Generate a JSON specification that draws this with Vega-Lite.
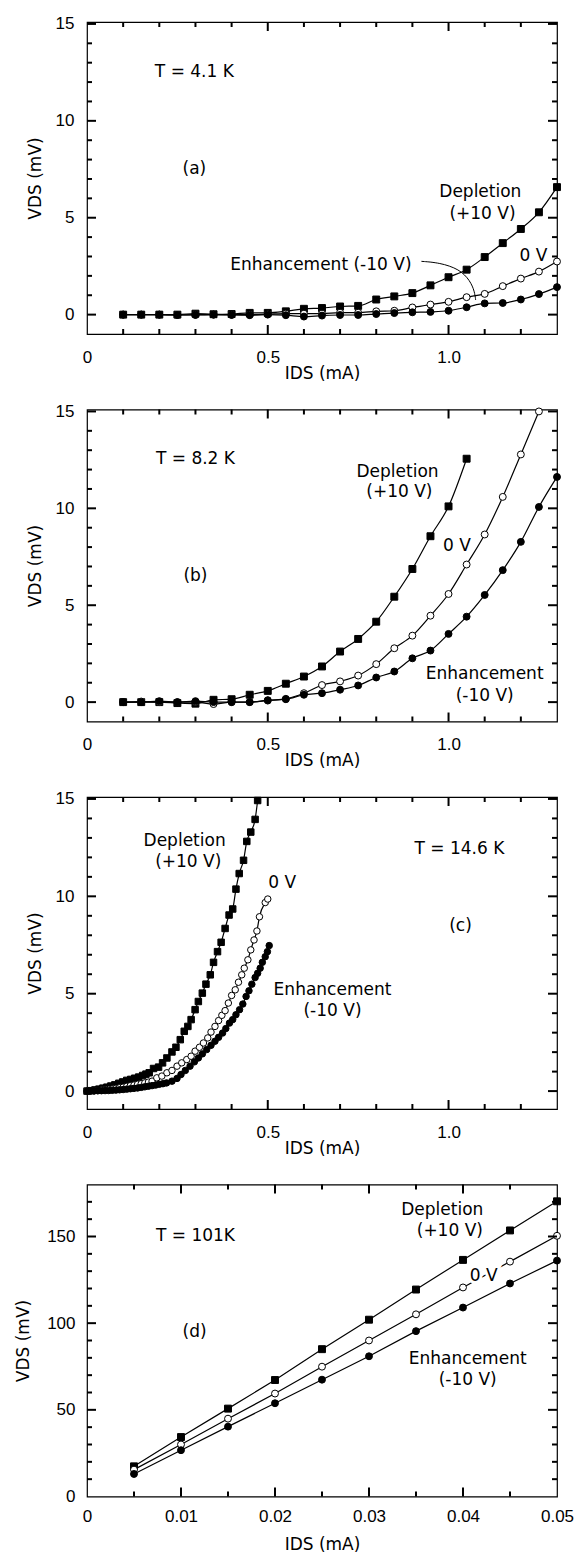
{
  "$schema": "https://vega.github.io/schema/vega-lite/v6.json",
  "background": "white",
  "padding": {"left": 14, "top": 14, "right": 5, "bottom": 5},
  "bounds": "flush",
  "spacing": 75.5,
  "config": {
    "view": {"stroke": "black", "strokeWidth": 1.2},
    "font": "Liberation Sans",
    "axis": {"domain": false, "grid": false, "ticks": false, "tickSize": 0, "labelColor": "black", "labelFont": "Liberation Sans", "labelFontSize": 17, "titleFont": "DejaVu Sans", "titleFontSize": 17, "titleFontWeight": "normal", "titleColor": "black", "labelOverlap": false, "labelBound": false, "labelFlush": false},
    "text": {"font": "DejaVu Sans", "fontSize": 17, "color": "black"},
    "rule": {"color": "black", "strokeWidth": 2, "opacity": 1}
  },
  "datasets": {
    "xM": [{"t":0.5},{"t":1.0}],
    "xm": [{"t":0.1},{"t":0.2},{"t":0.3},{"t":0.4},{"t":0.6},{"t":0.7},{"t":0.8},{"t":0.9},{"t":1.1},{"t":1.2}],
    "yM": [{"t":0},{"t":5},{"t":10},{"t":15}],
    "ym": [{"t":1},{"t":2},{"t":3},{"t":4},{"t":6},{"t":7},{"t":8},{"t":9},{"t":11},{"t":12},{"t":13},{"t":14}],
    "dxM": [{"t":0.01},{"t":0.02},{"t":0.03},{"t":0.04}],
    "dxm": [{"t":0.005},{"t":0.015},{"t":0.025},{"t":0.035},{"t":0.045}],
    "dyM": [{"t":50},{"t":100},{"t":150}],
    "dym": [{"t":10},{"t":20},{"t":30},{"t":40},{"t":60},{"t":70},{"t":80},{"t":90},{"t":110},{"t":120},{"t":130},{"t":140},{"t":160},{"t":170}],
    "a": [
      {"I":0.10,"V":0,"gate":"Depletion"},{"I":0.15,"V":0,"gate":"Depletion"},{"I":0.20,"V":0,"gate":"Depletion"},{"I":0.25,"V":0,"gate":"Depletion"},{"I":0.30,"V":0.05,"gate":"Depletion"},{"I":0.35,"V":0.02,"gate":"Depletion"},{"I":0.40,"V":0.03,"gate":"Depletion"},{"I":0.45,"V":0.09,"gate":"Depletion"},{"I":0.50,"V":0.09,"gate":"Depletion"},{"I":0.55,"V":0.17,"gate":"Depletion"},{"I":0.60,"V":0.3,"gate":"Depletion"},{"I":0.65,"V":0.34,"gate":"Depletion"},{"I":0.70,"V":0.42,"gate":"Depletion"},{"I":0.75,"V":0.45,"gate":"Depletion"},{"I":0.80,"V":0.78,"gate":"Depletion"},{"I":0.85,"V":0.94,"gate":"Depletion"},{"I":0.90,"V":1.11,"gate":"Depletion"},{"I":0.95,"V":1.51,"gate":"Depletion"},{"I":1.00,"V":1.93,"gate":"Depletion"},{"I":1.05,"V":2.32,"gate":"Depletion"},{"I":1.10,"V":2.97,"gate":"Depletion"},{"I":1.15,"V":3.69,"gate":"Depletion"},{"I":1.20,"V":4.42,"gate":"Depletion"},{"I":1.25,"V":5.28,"gate":"Depletion"},{"I":1.30,"V":6.58,"gate":"Depletion"},
      {"I":0.10,"V":0,"gate":"0 V"},{"I":0.15,"V":0,"gate":"0 V"},{"I":0.20,"V":0,"gate":"0 V"},{"I":0.25,"V":-0.02,"gate":"0 V"},{"I":0.30,"V":0,"gate":"0 V"},{"I":0.35,"V":0,"gate":"0 V"},{"I":0.40,"V":0,"gate":"0 V"},{"I":0.45,"V":0,"gate":"0 V"},{"I":0.50,"V":0.02,"gate":"0 V"},{"I":0.55,"V":0.05,"gate":"0 V"},{"I":0.60,"V":0.05,"gate":"0 V"},{"I":0.65,"V":0.05,"gate":"0 V"},{"I":0.70,"V":0.1,"gate":"0 V"},{"I":0.75,"V":0.1,"gate":"0 V"},{"I":0.80,"V":0.17,"gate":"0 V"},{"I":0.85,"V":0.2,"gate":"0 V"},{"I":0.90,"V":0.37,"gate":"0 V"},{"I":0.95,"V":0.52,"gate":"0 V"},{"I":1.00,"V":0.66,"gate":"0 V"},{"I":1.05,"V":0.9,"gate":"0 V"},{"I":1.10,"V":1.07,"gate":"0 V"},{"I":1.15,"V":1.47,"gate":"0 V"},{"I":1.20,"V":1.86,"gate":"0 V"},{"I":1.25,"V":2.22,"gate":"0 V"},{"I":1.30,"V":2.74,"gate":"0 V"},
      {"I":0.10,"V":0,"gate":"Enhancement"},{"I":0.15,"V":0,"gate":"Enhancement"},{"I":0.20,"V":0,"gate":"Enhancement"},{"I":0.25,"V":-0.02,"gate":"Enhancement"},{"I":0.30,"V":-0.02,"gate":"Enhancement"},{"I":0.35,"V":0,"gate":"Enhancement"},{"I":0.40,"V":-0.02,"gate":"Enhancement"},{"I":0.45,"V":-0.03,"gate":"Enhancement"},{"I":0.50,"V":0,"gate":"Enhancement"},{"I":0.55,"V":-0.03,"gate":"Enhancement"},{"I":0.60,"V":-0.1,"gate":"Enhancement"},{"I":0.65,"V":-0.05,"gate":"Enhancement"},{"I":0.70,"V":-0.02,"gate":"Enhancement"},{"I":0.75,"V":-0.02,"gate":"Enhancement"},{"I":0.80,"V":0.03,"gate":"Enhancement"},{"I":0.85,"V":0.08,"gate":"Enhancement"},{"I":0.90,"V":0.12,"gate":"Enhancement"},{"I":0.95,"V":0.14,"gate":"Enhancement"},{"I":1.00,"V":0.2,"gate":"Enhancement"},{"I":1.05,"V":0.38,"gate":"Enhancement"},{"I":1.10,"V":0.58,"gate":"Enhancement"},{"I":1.15,"V":0.6,"gate":"Enhancement"},{"I":1.20,"V":0.78,"gate":"Enhancement"},{"I":1.25,"V":1.06,"gate":"Enhancement"},{"I":1.30,"V":1.42,"gate":"Enhancement"}
    ],
    "at": [
      {"I":0.297,"V":12.5,"label":"T = 4.1 K"},{"I":0.297,"V":7.5,"label":"(a)"},{"I":1.088,"V":6.32,"label":"Depletion"},{"I":1.094,"V":5.17,"label":"(+10 V)"},{"I":1.235,"V":3.0,"label":"0 V"},{"I":0.647,"V":2.58,"label":"Enhancement  (-10 V)"}
    ],
    "al": [
      {"I":0.925,"V":2.75,"k":1},{"I":0.975,"V":2.68,"k":2},{"I":1.03,"V":2.35,"k":3},{"I":1.06,"V":1.75,"k":4},{"I":1.072,"V":1.19,"k":5},{"I":1.075,"V":0.76,"k":6}
    ],
    "b": [
      {"I":0.10,"V":0,"gate":"Depletion"},{"I":0.15,"V":0,"gate":"Depletion"},{"I":0.20,"V":0,"gate":"Depletion"},{"I":0.25,"V":-0.05,"gate":"Depletion"},{"I":0.30,"V":-0.08,"gate":"Depletion"},{"I":0.35,"V":0.12,"gate":"Depletion"},{"I":0.40,"V":0.15,"gate":"Depletion"},{"I":0.45,"V":0.38,"gate":"Depletion"},{"I":0.50,"V":0.58,"gate":"Depletion"},{"I":0.55,"V":0.95,"gate":"Depletion"},{"I":0.60,"V":1.32,"gate":"Depletion"},{"I":0.65,"V":1.84,"gate":"Depletion"},{"I":0.70,"V":2.61,"gate":"Depletion"},{"I":0.75,"V":3.26,"gate":"Depletion"},{"I":0.80,"V":4.15,"gate":"Depletion"},{"I":0.85,"V":5.44,"gate":"Depletion"},{"I":0.90,"V":6.87,"gate":"Depletion"},{"I":0.95,"V":8.56,"gate":"Depletion"},{"I":1.00,"V":10.1,"gate":"Depletion"},{"I":1.05,"V":12.56,"gate":"Depletion"},
      {"I":0.10,"V":0,"gate":"0 V"},{"I":0.15,"V":0.03,"gate":"0 V"},{"I":0.20,"V":0,"gate":"0 V"},{"I":0.25,"V":0,"gate":"0 V"},{"I":0.30,"V":0,"gate":"0 V"},{"I":0.35,"V":-0.1,"gate":"0 V"},{"I":0.40,"V":0,"gate":"0 V"},{"I":0.45,"V":0,"gate":"0 V"},{"I":0.50,"V":0.08,"gate":"0 V"},{"I":0.55,"V":0.17,"gate":"0 V"},{"I":0.60,"V":0.46,"gate":"0 V"},{"I":0.65,"V":0.88,"gate":"0 V"},{"I":0.70,"V":1.07,"gate":"0 V"},{"I":0.75,"V":1.37,"gate":"0 V"},{"I":0.80,"V":1.96,"gate":"0 V"},{"I":0.85,"V":2.78,"gate":"0 V"},{"I":0.90,"V":3.43,"gate":"0 V"},{"I":0.95,"V":4.46,"gate":"0 V"},{"I":1.00,"V":5.58,"gate":"0 V"},{"I":1.05,"V":7.1,"gate":"0 V"},{"I":1.10,"V":8.65,"gate":"0 V"},{"I":1.15,"V":10.59,"gate":"0 V"},{"I":1.20,"V":12.78,"gate":"0 V"},{"I":1.25,"V":15.0,"gate":"0 V"},
      {"I":0.10,"V":0,"gate":"Enhancement"},{"I":0.15,"V":0,"gate":"Enhancement"},{"I":0.20,"V":0.05,"gate":"Enhancement"},{"I":0.25,"V":0,"gate":"Enhancement"},{"I":0.30,"V":0.05,"gate":"Enhancement"},{"I":0.35,"V":0,"gate":"Enhancement"},{"I":0.40,"V":0,"gate":"Enhancement"},{"I":0.45,"V":0,"gate":"Enhancement"},{"I":0.50,"V":0.1,"gate":"Enhancement"},{"I":0.55,"V":0.15,"gate":"Enhancement"},{"I":0.60,"V":0.38,"gate":"Enhancement"},{"I":0.65,"V":0.46,"gate":"Enhancement"},{"I":0.70,"V":0.64,"gate":"Enhancement"},{"I":0.75,"V":0.86,"gate":"Enhancement"},{"I":0.80,"V":1.27,"gate":"Enhancement"},{"I":0.85,"V":1.58,"gate":"Enhancement"},{"I":0.90,"V":2.26,"gate":"Enhancement"},{"I":0.95,"V":2.66,"gate":"Enhancement"},{"I":1.00,"V":3.52,"gate":"Enhancement"},{"I":1.05,"V":4.41,"gate":"Enhancement"},{"I":1.10,"V":5.53,"gate":"Enhancement"},{"I":1.15,"V":6.81,"gate":"Enhancement"},{"I":1.20,"V":8.27,"gate":"Enhancement"},{"I":1.25,"V":10.07,"gate":"Enhancement"},{"I":1.30,"V":11.62,"gate":"Enhancement"}
    ],
    "bt": [
      {"I":0.30,"V":12.56,"label":"T = 8.2 K"},{"I":0.30,"V":6.5,"label":"(b)"},{"I":0.859,"V":11.87,"label":"Depletion"},{"I":0.864,"V":10.84,"label":"(+10 V)"},{"I":1.023,"V":8.06,"label":"0 V"},{"I":1.10,"V":1.44,"label":"Enhancement"},{"I":1.10,"V":0.34,"label":"(-10 V)"}
    ],
    "c": [
      {"I":0,"V":0,"gate":"Depletion"},{"I":0.011,"V":0.02,"gate":"Depletion"},{"I":0.022,"V":0.06,"gate":"Depletion"},{"I":0.033,"V":0.1,"gate":"Depletion"},{"I":0.044,"V":0.15,"gate":"Depletion"},{"I":0.055,"V":0.2,"gate":"Depletion"},{"I":0.066,"V":0.26,"gate":"Depletion"},{"I":0.077,"V":0.32,"gate":"Depletion"},{"I":0.088,"V":0.4,"gate":"Depletion"},{"I":0.099,"V":0.47,"gate":"Depletion"},{"I":0.11,"V":0.55,"gate":"Depletion"},{"I":0.121,"V":0.6,"gate":"Depletion"},{"I":0.132,"V":0.66,"gate":"Depletion"},{"I":0.143,"V":0.72,"gate":"Depletion"},{"I":0.154,"V":0.8,"gate":"Depletion"},{"I":0.163,"V":0.87,"gate":"Depletion"},{"I":0.172,"V":0.94,"gate":"Depletion"},{"I":0.184,"V":1.16,"gate":"Depletion"},{"I":0.198,"V":1.23,"gate":"Depletion"},{"I":0.209,"V":1.45,"gate":"Depletion"},{"I":0.221,"V":1.7,"gate":"Depletion"},{"I":0.235,"V":2.01,"gate":"Depletion"},{"I":0.246,"V":2.25,"gate":"Depletion"},{"I":0.258,"V":2.64,"gate":"Depletion"},{"I":0.269,"V":3.07,"gate":"Depletion"},{"I":0.279,"V":3.32,"gate":"Depletion"},{"I":0.288,"V":3.67,"gate":"Depletion"},{"I":0.299,"V":4.18,"gate":"Depletion"},{"I":0.308,"V":4.6,"gate":"Depletion"},{"I":0.319,"V":5.03,"gate":"Depletion"},{"I":0.329,"V":5.49,"gate":"Depletion"},{"I":0.341,"V":5.97,"gate":"Depletion"},{"I":0.35,"V":6.61,"gate":"Depletion"},{"I":0.361,"V":7.16,"gate":"Depletion"},{"I":0.371,"V":7.64,"gate":"Depletion"},{"I":0.382,"V":8.35,"gate":"Depletion"},{"I":0.393,"V":9.04,"gate":"Depletion"},{"I":0.403,"V":9.35,"gate":"Depletion"},{"I":0.412,"V":10.37,"gate":"Depletion"},{"I":0.421,"V":11.17,"gate":"Depletion"},{"I":0.433,"V":11.85,"gate":"Depletion"},{"I":0.442,"V":12.82,"gate":"Depletion"},{"I":0.453,"V":13.3,"gate":"Depletion"},{"I":0.465,"V":13.95,"gate":"Depletion"},{"I":0.472,"V":14.92,"gate":"Depletion"},
      {"I":0,"V":0,"gate":"0 V"},{"I":0.01,"V":0.01,"gate":"0 V"},{"I":0.02,"V":0.02,"gate":"0 V"},{"I":0.03,"V":0.03,"gate":"0 V"},{"I":0.04,"V":0.05,"gate":"0 V"},{"I":0.05,"V":0.07,"gate":"0 V"},{"I":0.06,"V":0.09,"gate":"0 V"},{"I":0.07,"V":0.11,"gate":"0 V"},{"I":0.08,"V":0.14,"gate":"0 V"},{"I":0.09,"V":0.17,"gate":"0 V"},{"I":0.10,"V":0.2,"gate":"0 V"},{"I":0.11,"V":0.24,"gate":"0 V"},{"I":0.12,"V":0.28,"gate":"0 V"},{"I":0.13,"V":0.31,"gate":"0 V"},{"I":0.14,"V":0.35,"gate":"0 V"},{"I":0.15,"V":0.38,"gate":"0 V"},{"I":0.16,"V":0.42,"gate":"0 V"},{"I":0.17,"V":0.46,"gate":"0 V"},{"I":0.18,"V":0.51,"gate":"0 V"},{"I":0.193,"V":0.68,"gate":"0 V"},{"I":0.207,"V":0.77,"gate":"0 V"},{"I":0.221,"V":0.94,"gate":"0 V"},{"I":0.235,"V":1.06,"gate":"0 V"},{"I":0.249,"V":1.28,"gate":"0 V"},{"I":0.262,"V":1.45,"gate":"0 V"},{"I":0.276,"V":1.62,"gate":"0 V"},{"I":0.288,"V":1.79,"gate":"0 V"},{"I":0.299,"V":2.05,"gate":"0 V"},{"I":0.311,"V":2.25,"gate":"0 V"},{"I":0.322,"V":2.47,"gate":"0 V"},{"I":0.334,"V":2.73,"gate":"0 V"},{"I":0.343,"V":3.03,"gate":"0 V"},{"I":0.354,"V":3.32,"gate":"0 V"},{"I":0.364,"V":3.62,"gate":"0 V"},{"I":0.373,"V":3.89,"gate":"0 V"},{"I":0.382,"V":4.13,"gate":"0 V"},{"I":0.391,"V":4.52,"gate":"0 V"},{"I":0.40,"V":4.91,"gate":"0 V"},{"I":0.41,"V":5.2,"gate":"0 V"},{"I":0.419,"V":5.59,"gate":"0 V"},{"I":0.428,"V":5.97,"gate":"0 V"},{"I":0.435,"V":6.31,"gate":"0 V"},{"I":0.445,"V":6.74,"gate":"0 V"},{"I":0.453,"V":7.25,"gate":"0 V"},{"I":0.462,"V":7.76,"gate":"0 V"},{"I":0.47,"V":8.22,"gate":"0 V"},{"I":0.477,"V":8.95,"gate":"0 V"},{"I":0.493,"V":9.68,"gate":"0 V"},{"I":0.5,"V":9.86,"gate":"0 V"},
      {"I":0,"V":0,"gate":"Enhancement"},{"I":0.01,"V":0.005,"gate":"Enhancement"},{"I":0.02,"V":0.01,"gate":"Enhancement"},{"I":0.03,"V":0.015,"gate":"Enhancement"},{"I":0.04,"V":0.02,"gate":"Enhancement"},{"I":0.05,"V":0.025,"gate":"Enhancement"},{"I":0.06,"V":0.03,"gate":"Enhancement"},{"I":0.07,"V":0.04,"gate":"Enhancement"},{"I":0.08,"V":0.05,"gate":"Enhancement"},{"I":0.09,"V":0.065,"gate":"Enhancement"},{"I":0.10,"V":0.08,"gate":"Enhancement"},{"I":0.11,"V":0.1,"gate":"Enhancement"},{"I":0.12,"V":0.12,"gate":"Enhancement"},{"I":0.13,"V":0.14,"gate":"Enhancement"},{"I":0.14,"V":0.16,"gate":"Enhancement"},{"I":0.15,"V":0.19,"gate":"Enhancement"},{"I":0.16,"V":0.22,"gate":"Enhancement"},{"I":0.17,"V":0.25,"gate":"Enhancement"},{"I":0.18,"V":0.28,"gate":"Enhancement"},{"I":0.19,"V":0.31,"gate":"Enhancement"},{"I":0.20,"V":0.35,"gate":"Enhancement"},{"I":0.21,"V":0.38,"gate":"Enhancement"},{"I":0.22,"V":0.42,"gate":"Enhancement"},{"I":0.235,"V":0.51,"gate":"Enhancement"},{"I":0.249,"V":0.65,"gate":"Enhancement"},{"I":0.26,"V":0.85,"gate":"Enhancement"},{"I":0.272,"V":1.06,"gate":"Enhancement"},{"I":0.285,"V":1.28,"gate":"Enhancement"},{"I":0.297,"V":1.5,"gate":"Enhancement"},{"I":0.308,"V":1.7,"gate":"Enhancement"},{"I":0.319,"V":1.91,"gate":"Enhancement"},{"I":0.331,"V":2.13,"gate":"Enhancement"},{"I":0.343,"V":2.35,"gate":"Enhancement"},{"I":0.354,"V":2.56,"gate":"Enhancement"},{"I":0.364,"V":2.76,"gate":"Enhancement"},{"I":0.375,"V":2.98,"gate":"Enhancement"},{"I":0.384,"V":3.21,"gate":"Enhancement"},{"I":0.394,"V":3.49,"gate":"Enhancement"},{"I":0.403,"V":3.67,"gate":"Enhancement"},{"I":0.412,"V":3.92,"gate":"Enhancement"},{"I":0.422,"V":4.18,"gate":"Enhancement"},{"I":0.431,"V":4.47,"gate":"Enhancement"},{"I":0.44,"V":4.86,"gate":"Enhancement"},{"I":0.448,"V":5.15,"gate":"Enhancement"},{"I":0.456,"V":5.49,"gate":"Enhancement"},{"I":0.465,"V":5.83,"gate":"Enhancement"},{"I":0.472,"V":6.05,"gate":"Enhancement"},{"I":0.479,"V":6.31,"gate":"Enhancement"},{"I":0.485,"V":6.61,"gate":"Enhancement"},{"I":0.493,"V":6.9,"gate":"Enhancement"},{"I":0.499,"V":7.16,"gate":"Enhancement"},{"I":0.504,"V":7.47,"gate":"Enhancement"}
    ],
    "ct": [
      {"I":1.03,"V":12.41,"label":"T = 14.6 K"},{"I":1.033,"V":8.49,"label":"(c)"},{"I":0.27,"V":12.82,"label":"Depletion"},{"I":0.28,"V":11.76,"label":"(+10 V)"},{"I":0.54,"V":10.66,"label":"0 V"},{"I":0.679,"V":5.2,"label":"Enhancement"},{"I":0.679,"V":4.13,"label":"(-10 V)"}
    ],
    "d": [
      {"I":0.005,"V":17.4,"gate":"Depletion"},{"I":0.01,"V":34.3,"gate":"Depletion"},{"I":0.015,"V":50.7,"gate":"Depletion"},{"I":0.02,"V":67.2,"gate":"Depletion"},{"I":0.025,"V":85,"gate":"Depletion"},{"I":0.03,"V":102,"gate":"Depletion"},{"I":0.035,"V":119.4,"gate":"Depletion"},{"I":0.04,"V":136.5,"gate":"Depletion"},{"I":0.045,"V":153.5,"gate":"Depletion"},{"I":0.05,"V":170.3,"gate":"Depletion"},
      {"I":0.005,"V":15.5,"gate":"0 V"},{"I":0.01,"V":30,"gate":"0 V"},{"I":0.015,"V":44.9,"gate":"0 V"},{"I":0.02,"V":59.4,"gate":"0 V"},{"I":0.025,"V":74.9,"gate":"0 V"},{"I":0.03,"V":90,"gate":"0 V"},{"I":0.035,"V":105.1,"gate":"0 V"},{"I":0.04,"V":120.6,"gate":"0 V"},{"I":0.045,"V":135.5,"gate":"0 V"},{"I":0.05,"V":150.4,"gate":"0 V"},
      {"I":0.005,"V":13,"gate":"Enhancement"},{"I":0.01,"V":26.7,"gate":"Enhancement"},{"I":0.015,"V":40.3,"gate":"Enhancement"},{"I":0.02,"V":53.8,"gate":"Enhancement"},{"I":0.025,"V":67.4,"gate":"Enhancement"},{"I":0.03,"V":80.9,"gate":"Enhancement"},{"I":0.035,"V":95.4,"gate":"Enhancement"},{"I":0.04,"V":109,"gate":"Enhancement"},{"I":0.045,"V":122.9,"gate":"Enhancement"},{"I":0.05,"V":136.1,"gate":"Enhancement"}
    ],
    "dt": [
      {"I":0.01154,"V":150.4,"label":"T = 101K"},{"I":0.01145,"V":94.8,"label":"(d)"},{"I":0.0378,"V":165.1,"label":"Depletion"},{"I":0.0386,"V":152.9,"label":"(+10 V)"},{"I":0.0422,"V":127.2,"label":"0 V"},{"I":0.0405,"V":79.4,"label":"Enhancement"},{"I":0.0405,"V":67.2,"label":"(-10 V)"}
    ]
  },
  "vconcat": [
    {
      "width": 470, "height": 312,
      "layer": [
        {"data": {"name": "a"}, "mark": {"type": "line", "color": "black", "strokeWidth": 1.2, "interpolate": "monotone"},
         "encoding": {
           "x": {"field": "I", "type": "quantitative", "scale": {"domain": [0, 1.3], "nice": false, "zero": false},
                 "axis": {"values": [0, 0.5, 1], "ticks": false, "tickSize": 0, "labelExpr": "datum.value==0 ? '0' : format(datum.value,'.1f')", "labelPadding": 15, "title": "IDS  (mA)", "titlePadding": 0}},
           "y": {"field": "V", "type": "quantitative", "scale": {"domain": [-1, 15.1], "nice": false, "zero": false},
                 "axis": {"values": [0, 5, 10, 15], "ticks": false, "tickSize": 0, "labelPadding": 13, "title": "VDS  (mV)", "titlePadding": 11}},
           "detail": {"field": "gate"}
         }},
        {"data": {"name": "a"}, "mark": {"type": "point", "stroke": "black", "strokeWidth": 1, "size": 48, "opacity": 1, "fillOpacity": 1},
         "encoding": {
           "x": {"field": "I", "type": "quantitative"}, "y": {"field": "V", "type": "quantitative"},
           "shape": {"field": "gate", "scale": {"domain": ["Depletion", "0 V", "Enhancement"], "range": ["square", "circle", "circle"]}, "legend": null},
           "fill": {"field": "gate", "scale": {"domain": ["Depletion", "0 V", "Enhancement"], "range": ["black", "white", "black"]}, "legend": null}
         }},
        {"data": {"name": "al"}, "mark": {"type": "line", "color": "black", "strokeWidth": 1, "interpolate": "basis"},
         "encoding": {"x": {"field": "I", "type": "quantitative"}, "y": {"field": "V", "type": "quantitative"}, "order": {"field": "k"}}},
        {"data": {"name": "at"}, "mark": {"type": "text", "align": "center", "baseline": "middle"},
         "encoding": {"x": {"field": "I", "type": "quantitative"}, "y": {"field": "V", "type": "quantitative"}, "text": {"field": "label"}}},
        {"data": {"name": "xM"}, "mark": {"type": "rule", "color": "black", "strokeWidth": 2}, "encoding": {"x": {"field": "t", "type": "quantitative"}, "y": {"datum": -1, "type": "quantitative"}, "y2": {"datum": -0.536}}},
        {"data": {"name": "xm"}, "mark": {"type": "rule", "color": "black", "strokeWidth": 2}, "encoding": {"x": {"field": "t", "type": "quantitative"}, "y": {"datum": -1, "type": "quantitative"}, "y2": {"datum": -0.742}}},
        {"data": {"name": "xM"}, "mark": {"type": "rule", "color": "black", "strokeWidth": 2}, "encoding": {"x": {"field": "t", "type": "quantitative"}, "y": {"datum": 15.1, "type": "quantitative"}, "y2": {"datum": 14.636}}},
        {"data": {"name": "xm"}, "mark": {"type": "rule", "color": "black", "strokeWidth": 2}, "encoding": {"x": {"field": "t", "type": "quantitative"}, "y": {"datum": 15.1, "type": "quantitative"}, "y2": {"datum": 14.842}}},
        {"data": {"name": "yM"}, "mark": {"type": "rule", "color": "black", "strokeWidth": 2}, "encoding": {"y": {"field": "t", "type": "quantitative"}, "x": {"datum": 0, "type": "quantitative"}, "x2": {"datum": 0.0249}}},
        {"data": {"name": "ym"}, "mark": {"type": "rule", "color": "black", "strokeWidth": 2}, "encoding": {"y": {"field": "t", "type": "quantitative"}, "x": {"datum": 0, "type": "quantitative"}, "x2": {"datum": 0.0138}}},
        {"data": {"name": "yM"}, "mark": {"type": "rule", "color": "black", "strokeWidth": 2}, "encoding": {"y": {"field": "t", "type": "quantitative"}, "x": {"datum": 1.3, "type": "quantitative"}, "x2": {"datum": 1.2751}}},
        {"data": {"name": "ym"}, "mark": {"type": "rule", "color": "black", "strokeWidth": 2}, "encoding": {"y": {"field": "t", "type": "quantitative"}, "x": {"datum": 1.3, "type": "quantitative"}, "x2": {"datum": 1.2862}}}
      ]
    },
    {
      "width": 470, "height": 312,
      "layer": [
        {"data": {"name": "b"}, "mark": {"type": "line", "color": "black", "strokeWidth": 1.2, "interpolate": "monotone"},
         "encoding": {
           "x": {"field": "I", "type": "quantitative", "scale": {"domain": [0, 1.3], "nice": false, "zero": false},
                 "axis": {"values": [0, 0.5, 1], "ticks": false, "tickSize": 0, "labelExpr": "datum.value==0 ? '0' : format(datum.value,'.1f')", "labelPadding": 15, "title": "IDS  (mA)", "titlePadding": 0}},
           "y": {"field": "V", "type": "quantitative", "scale": {"domain": [-1, 15.1], "nice": false, "zero": false},
                 "axis": {"values": [0, 5, 10, 15], "ticks": false, "tickSize": 0, "labelPadding": 13, "title": "VDS  (mV)", "titlePadding": 11}},
           "detail": {"field": "gate"}
         }},
        {"data": {"name": "b"}, "mark": {"type": "point", "stroke": "black", "strokeWidth": 1, "size": 48, "opacity": 1, "fillOpacity": 1, "clip": false},
         "encoding": {
           "x": {"field": "I", "type": "quantitative"}, "y": {"field": "V", "type": "quantitative"},
           "shape": {"field": "gate", "scale": {"domain": ["Depletion", "0 V", "Enhancement"], "range": ["square", "circle", "circle"]}, "legend": null},
           "fill": {"field": "gate", "scale": {"domain": ["Depletion", "0 V", "Enhancement"], "range": ["black", "white", "black"]}, "legend": null}
         }},
        {"data": {"name": "bt"}, "mark": {"type": "text", "align": "center", "baseline": "middle"},
         "encoding": {"x": {"field": "I", "type": "quantitative"}, "y": {"field": "V", "type": "quantitative"}, "text": {"field": "label"}}},
        {"data": {"name": "xM"}, "mark": {"type": "rule", "color": "black", "strokeWidth": 2}, "encoding": {"x": {"field": "t", "type": "quantitative"}, "y": {"datum": -1, "type": "quantitative"}, "y2": {"datum": -0.536}}},
        {"data": {"name": "xm"}, "mark": {"type": "rule", "color": "black", "strokeWidth": 2}, "encoding": {"x": {"field": "t", "type": "quantitative"}, "y": {"datum": -1, "type": "quantitative"}, "y2": {"datum": -0.742}}},
        {"data": {"name": "xM"}, "mark": {"type": "rule", "color": "black", "strokeWidth": 2}, "encoding": {"x": {"field": "t", "type": "quantitative"}, "y": {"datum": 15.1, "type": "quantitative"}, "y2": {"datum": 14.636}}},
        {"data": {"name": "xm"}, "mark": {"type": "rule", "color": "black", "strokeWidth": 2}, "encoding": {"x": {"field": "t", "type": "quantitative"}, "y": {"datum": 15.1, "type": "quantitative"}, "y2": {"datum": 14.842}}},
        {"data": {"name": "yM"}, "mark": {"type": "rule", "color": "black", "strokeWidth": 2}, "encoding": {"y": {"field": "t", "type": "quantitative"}, "x": {"datum": 0, "type": "quantitative"}, "x2": {"datum": 0.0249}}},
        {"data": {"name": "ym"}, "mark": {"type": "rule", "color": "black", "strokeWidth": 2}, "encoding": {"y": {"field": "t", "type": "quantitative"}, "x": {"datum": 0, "type": "quantitative"}, "x2": {"datum": 0.0138}}},
        {"data": {"name": "yM"}, "mark": {"type": "rule", "color": "black", "strokeWidth": 2}, "encoding": {"y": {"field": "t", "type": "quantitative"}, "x": {"datum": 1.3, "type": "quantitative"}, "x2": {"datum": 1.2751}}},
        {"data": {"name": "ym"}, "mark": {"type": "rule", "color": "black", "strokeWidth": 2}, "encoding": {"y": {"field": "t", "type": "quantitative"}, "x": {"datum": 1.3, "type": "quantitative"}, "x2": {"datum": 1.2862}}}
      ]
    },
    {
      "width": 470, "height": 312,
      "layer": [
        {"data": {"name": "c"}, "mark": {"type": "line", "color": "black", "strokeWidth": 1.2, "interpolate": "monotone"},
         "encoding": {
           "x": {"field": "I", "type": "quantitative", "scale": {"domain": [0, 1.3], "nice": false, "zero": false},
                 "axis": {"values": [0, 0.5, 1], "ticks": false, "tickSize": 0, "labelExpr": "datum.value==0 ? '0' : format(datum.value,'.1f')", "labelPadding": 15, "title": "IDS  (mA)", "titlePadding": 0}},
           "y": {"field": "V", "type": "quantitative", "scale": {"domain": [-0.92, 15.1], "nice": false, "zero": false},
                 "axis": {"values": [0, 5, 10, 15], "ticks": false, "tickSize": 0, "labelPadding": 13, "title": "VDS  (mV)", "titlePadding": 11}},
           "detail": {"field": "gate"}
         }},
        {"data": {"name": "c"}, "mark": {"type": "point", "stroke": "black", "strokeWidth": 1, "size": 42, "opacity": 1, "fillOpacity": 1},
         "encoding": {
           "x": {"field": "I", "type": "quantitative"}, "y": {"field": "V", "type": "quantitative"},
           "shape": {"field": "gate", "scale": {"domain": ["Depletion", "0 V", "Enhancement"], "range": ["square", "circle", "circle"]}, "legend": null},
           "fill": {"field": "gate", "scale": {"domain": ["Depletion", "0 V", "Enhancement"], "range": ["black", "white", "black"]}, "legend": null}
         }},
        {"data": {"name": "ct"}, "mark": {"type": "text", "align": "center", "baseline": "middle"},
         "encoding": {"x": {"field": "I", "type": "quantitative"}, "y": {"field": "V", "type": "quantitative"}, "text": {"field": "label"}}},
        {"data": {"name": "xM"}, "mark": {"type": "rule", "color": "black", "strokeWidth": 2}, "encoding": {"x": {"field": "t", "type": "quantitative"}, "y": {"datum": -0.92, "type": "quantitative"}, "y2": {"datum": -0.458}}},
        {"data": {"name": "xm"}, "mark": {"type": "rule", "color": "black", "strokeWidth": 2}, "encoding": {"x": {"field": "t", "type": "quantitative"}, "y": {"datum": -0.92, "type": "quantitative"}, "y2": {"datum": -0.663}}},
        {"data": {"name": "xM"}, "mark": {"type": "rule", "color": "black", "strokeWidth": 2}, "encoding": {"x": {"field": "t", "type": "quantitative"}, "y": {"datum": 15.1, "type": "quantitative"}, "y2": {"datum": 14.638}}},
        {"data": {"name": "xm"}, "mark": {"type": "rule", "color": "black", "strokeWidth": 2}, "encoding": {"x": {"field": "t", "type": "quantitative"}, "y": {"datum": 15.1, "type": "quantitative"}, "y2": {"datum": 14.843}}},
        {"data": {"name": "yM"}, "mark": {"type": "rule", "color": "black", "strokeWidth": 2}, "encoding": {"y": {"field": "t", "type": "quantitative"}, "x": {"datum": 0, "type": "quantitative"}, "x2": {"datum": 0.0249}}},
        {"data": {"name": "ym"}, "mark": {"type": "rule", "color": "black", "strokeWidth": 2}, "encoding": {"y": {"field": "t", "type": "quantitative"}, "x": {"datum": 0, "type": "quantitative"}, "x2": {"datum": 0.0138}}},
        {"data": {"name": "yM"}, "mark": {"type": "rule", "color": "black", "strokeWidth": 2}, "encoding": {"y": {"field": "t", "type": "quantitative"}, "x": {"datum": 1.3, "type": "quantitative"}, "x2": {"datum": 1.2751}}},
        {"data": {"name": "ym"}, "mark": {"type": "rule", "color": "black", "strokeWidth": 2}, "encoding": {"y": {"field": "t", "type": "quantitative"}, "x": {"datum": 1.3, "type": "quantitative"}, "x2": {"datum": 1.2862}}}
      ]
    },
    {
      "width": 470, "height": 312,
      "layer": [
        {"data": {"name": "d"}, "mark": {"type": "line", "color": "black", "strokeWidth": 1.2},
         "encoding": {
           "x": {"field": "I", "type": "quantitative", "scale": {"domain": [0, 0.05], "nice": false, "zero": false},
                 "axis": {"values": [0, 0.01, 0.02, 0.03, 0.04, 0.05], "ticks": false, "tickSize": 0, "labelExpr": "datum.value==0 ? '0' : format(datum.value,'.2f')", "labelPadding": 12, "title": "IDS  (mA)", "titlePadding": 12}},
           "y": {"field": "V", "type": "quantitative", "scale": {"domain": [0, 180], "nice": false, "zero": false},
                 "axis": {"values": [0, 50, 100, 150], "ticks": false, "tickSize": 0, "labelPadding": 12, "title": "VDS  (mV)", "titlePadding": 14}},
           "detail": {"field": "gate"}
         }},
        {"data": {"name": "d"}, "mark": {"type": "point", "stroke": "black", "strokeWidth": 1, "size": 48, "opacity": 1, "fillOpacity": 1, "clip": false},
         "encoding": {
           "x": {"field": "I", "type": "quantitative"}, "y": {"field": "V", "type": "quantitative"},
           "shape": {"field": "gate", "scale": {"domain": ["Depletion", "0 V", "Enhancement"], "range": ["square", "circle", "circle"]}, "legend": null},
           "fill": {"field": "gate", "scale": {"domain": ["Depletion", "0 V", "Enhancement"], "range": ["black", "white", "black"]}, "legend": null}
         }},
        {"data": {"name": "dt"}, "transform": [{"filter": "datum.label == '0 V'"}], "mark": {"type": "text", "align": "center", "baseline": "middle", "stroke": "white", "strokeWidth": 6, "fill": "white"},
         "encoding": {"x": {"field": "I", "type": "quantitative"}, "y": {"field": "V", "type": "quantitative"}, "text": {"field": "label"}}},
        {"data": {"name": "dt"}, "mark": {"type": "text", "align": "center", "baseline": "middle"},
         "encoding": {"x": {"field": "I", "type": "quantitative"}, "y": {"field": "V", "type": "quantitative"}, "text": {"field": "label"}}},
        {"data": {"name": "dxM"}, "mark": {"type": "rule", "color": "black", "strokeWidth": 2}, "encoding": {"x": {"field": "t", "type": "quantitative"}, "y": {"datum": 0, "type": "quantitative"}, "y2": {"datum": 5.19}}},
        {"data": {"name": "dxm"}, "mark": {"type": "rule", "color": "black", "strokeWidth": 2}, "encoding": {"x": {"field": "t", "type": "quantitative"}, "y": {"datum": 0, "type": "quantitative"}, "y2": {"datum": 2.885}}},
        {"data": {"name": "dxM"}, "mark": {"type": "rule", "color": "black", "strokeWidth": 2}, "encoding": {"x": {"field": "t", "type": "quantitative"}, "y": {"datum": 180, "type": "quantitative"}, "y2": {"datum": 174.81}}},
        {"data": {"name": "dxm"}, "mark": {"type": "rule", "color": "black", "strokeWidth": 2}, "encoding": {"x": {"field": "t", "type": "quantitative"}, "y": {"datum": 180, "type": "quantitative"}, "y2": {"datum": 177.115}}},
        {"data": {"name": "dyM"}, "mark": {"type": "rule", "color": "black", "strokeWidth": 2}, "encoding": {"y": {"field": "t", "type": "quantitative"}, "x": {"datum": 0, "type": "quantitative"}, "x2": {"datum": 0.000957}}},
        {"data": {"name": "dym"}, "mark": {"type": "rule", "color": "black", "strokeWidth": 2}, "encoding": {"y": {"field": "t", "type": "quantitative"}, "x": {"datum": 0, "type": "quantitative"}, "x2": {"datum": 0.000532}}},
        {"data": {"name": "dyM"}, "mark": {"type": "rule", "color": "black", "strokeWidth": 2}, "encoding": {"y": {"field": "t", "type": "quantitative"}, "x": {"datum": 0.05, "type": "quantitative"}, "x2": {"datum": 0.049043}}},
        {"data": {"name": "dym"}, "mark": {"type": "rule", "color": "black", "strokeWidth": 2}, "encoding": {"y": {"field": "t", "type": "quantitative"}, "x": {"datum": 0.05, "type": "quantitative"}, "x2": {"datum": 0.049468}}}
      ]
    }
  ]
}
